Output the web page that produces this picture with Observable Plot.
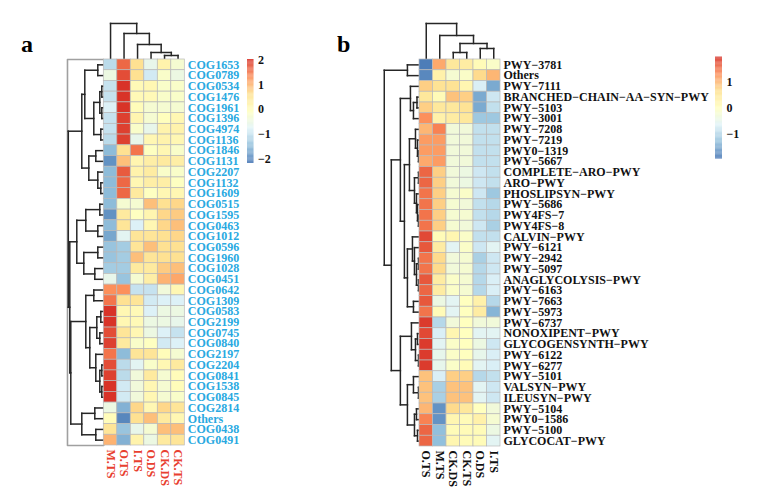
<!DOCTYPE html>
<html><head><meta charset="utf-8">
<script src="https://cdn.jsdelivr.net/npm/d3@7"></script>
<script src="https://cdn.jsdelivr.net/npm/@observablehq/plot@0.6"></script>
<style>
body{margin:0;background:#fff;}
#wrap{position:relative;width:777px;height:501px;font-family:"Liberation Serif","Times New Roman",serif;}
#wrap svg{position:absolute;top:0;overflow:visible;background:transparent;}
.tag{position:absolute;font-weight:bold;font-size:24px;line-height:1;}
</style></head><body>
<div id="wrap"><div class="tag" style="left:21px;top:32px">a</div><div class="tag" style="left:337px;top:32px">b</div></div>
<script>
// ---------- Panel a data ----------
const rowsA = ["COG1653","COG0789","COG0534","COG1476","COG1961","COG1396","COG4974","COG1136","COG1846","COG1131","COG2207","COG1132","COG1609","COG0515","COG1595","COG0463","COG1012","COG0596","COG1960","COG1028","COG0451","COG0642","COG1309","COG0583","COG2199","COG0745","COG0840","COG2197","COG2204","COG0841","COG1538","COG0845","COG2814","Others","COG0438","COG0491"];
const colsA = ["M.TS","O.TS","I.TS","O.DS","CK.DS","CK.TS"];
const valuesA = [
 [-1.1,1.6,0.6,-0.6,0.2,-0.3],
 [-0.5,1.8,0.6,-0.9,-0.2,-0.5],
 [-1.0,2.0,0.05,0.1,-0.2,-0.2],
 [-1.0,2.0,0.05,0.05,-0.2,-0.2],
 [-0.8,2.0,0.0,-0.3,-0.3,-0.3],
 [-1.0,1.9,0.15,-0.3,-0.05,0.1],
 [-1.0,1.9,-0.2,-0.6,0.2,0.2],
 [-1.1,1.9,-0.6,0.1,0.2,0.1],
 [-1.5,0.6,1.5,-0.1,0.1,-0.2],
 [-1.9,0.9,0.15,0.3,0.4,0.3],
 [-1.5,1.7,0.2,0.35,-0.2,-0.2],
 [-1.5,1.6,0.1,0.3,0.3,-0.1],
 [-1.5,1.6,0.4,-0.1,0.1,0.1],
 [-1.5,-0.3,-0.3,0.9,0.6,0.7],
 [-1.9,0.4,-0.1,0.15,0.7,0.8],
 [-1.5,0.5,-0.8,0.1,0.7,0.9],
 [-1.7,-0.7,0.5,0.5,0.6,0.7],
 [-1.4,-1.3,0.5,0.9,0.6,0.6],
 [-1.4,-1.3,0.9,0.5,0.6,0.6],
 [-1.3,-1.3,0.4,0.4,0.8,0.9],
 [-0.6,-1.4,-0.3,0.3,1.0,1.1],
 [1.3,1.3,-1.0,-1.0,-0.4,0.1],
 [1.5,0.6,0.5,-0.9,-0.8,-0.8],
 [2.0,0.1,0.05,-0.8,-0.5,-0.5],
 [2.0,0.1,0.05,-0.5,-0.5,-0.6],
 [1.8,0.5,0.1,-0.5,-0.8,-1.0],
 [1.9,0.4,-0.2,-0.1,-0.9,-0.8],
 [1.5,-1.5,0.5,0.5,0.0,-0.3],
 [1.8,-1.1,-0.7,-0.2,0.1,0.4],
 [1.9,-1.1,-0.4,0.4,-0.3,0.0],
 [2.0,-0.9,-0.4,0.1,-0.3,0.0],
 [2.0,-0.9,-0.4,0.1,-0.3,-0.2],
 [-0.5,-1.6,0.7,0.1,0.7,0.5],
 [0.0,-2.0,0.6,0.9,0.4,0.1],
 [0.5,-1.4,-0.6,-0.3,0.9,0.9],
 [1.0,-1.6,0.2,-0.5,0.4,0.5]
];
// dendrograms as [height, left, right]; leaves are row/column indices
const rowTreeA = [35.5,
  [22, [19, [6,0,1], [10, [4,[2,2,3],[2,4,5]], [3,6,7]]], [15, [8,8,9], [6,10,[3,11,12]]]],
  [34, [27, [18,[4,13,14],[6,15,16]], [20,[6,17,18],[9,19,20]]],
       [33, [18, [10,21,22], [14, [7,[3,23,24],[4,25,26]], [8,27,[4,[2,28,29],[2,30,31]]]]],
            [22, [9,32,33], [8,34,35]]]]];
const colTreeA = [36, 0, [26, 1, [15, 2, [7, 3, [4, 4, 5]]]]];
const legendA = {min: -2.17, max: 2.02, ticks: [-2,-1,0,1,2]};

// ---------- Panel b data ----------
const rowsB = ["PWY\u22123781","Others","PWY\u22127111","BRANCHED\u2212CHAIN\u2212AA\u2212SYN\u2212PWY","PWY\u22125103","PWY\u22123001","PWY\u22127208","PWY\u22127219","PWY0\u22121319","PWY\u22125667","COMPLETE\u2212ARO\u2212PWY","ARO\u2212PWY","PHOSLIPSYN\u2212PWY","PWY\u22125686","PWY4FS\u22127","PWY4FS\u22128","CALVIN\u2212PWY","PWY\u22126121","PWY\u22122942","PWY\u22125097","ANAGLYCOLYSIS\u2212PWY","PWY\u22126163","PWY\u22127663","PWY\u22125973","PWY\u22126737","NONOXIPENT\u2212PWY","GLYCOGENSYNTH\u2212PWY","PWY\u22126122","PWY\u22126277","PWY\u22125101","VALSYN\u2212PWY","ILEUSYN\u2212PWY","PWY\u22125104","PWY0\u22121586","PWY\u22125100","GLYCOCAT\u2212PWY"];
const colsB = ["O.TS","M.TS","CK.DS","CK.TS","O.DS","I.TS"];
const valuesB = [
 [-1.9,1.1,0.5,0.4,0.1,-0.1],
 [-1.8,0.3,-0.2,-0.1,0.7,1.0],
 [0.8,0.6,0.6,0.2,-0.7,-1.5],
 [0.5,0.1,0.9,0.8,-1.5,-0.8],
 [0.8,0.5,0.5,0.6,-1.5,-0.9],
 [1.3,0.3,0.4,0.5,-1.2,-1.2],
 [1.0,1.4,-0.3,-0.3,-0.9,-0.9],
 [1.2,1.2,-0.3,-0.3,-0.9,-0.9],
 [1.2,1.2,-0.3,-0.3,-0.9,-0.9],
 [1.1,1.2,-0.3,-0.3,-0.9,-0.9],
 [1.6,0.8,-0.3,-0.4,-0.8,-0.9],
 [1.6,0.8,-0.3,-0.4,-0.8,-0.9],
 [1.5,0.8,-0.2,-0.1,-0.8,-1.2],
 [1.5,0.8,-0.2,-0.3,-0.9,-1.0],
 [1.5,0.8,-0.2,-0.2,-0.9,-1.0],
 [1.5,0.8,-0.2,-0.3,-0.8,-1.1],
 [1.8,0.1,0.2,-0.1,-0.9,-0.9],
 [1.7,0.4,-0.6,-0.1,-0.8,-0.6],
 [1.5,0.7,-0.3,-0.2,-1.1,-0.8],
 [1.5,0.7,-0.3,-0.2,-1.0,-0.8],
 [1.7,0.4,-0.1,-0.2,-1.0,-0.7],
 [1.6,0.4,-0.1,-0.2,-1.0,-0.7],
 [1.7,-0.4,-0.6,0.0,0.3,-1.0],
 [1.5,0.1,-0.6,0.0,0.4,-1.4],
 [1.9,-1.0,-0.3,0.0,-0.3,-0.3],
 [1.8,-0.7,0.2,0.0,-0.6,-0.6],
 [1.9,-0.6,-0.1,0.0,-0.4,-0.8],
 [1.9,-0.5,-0.1,0.0,-0.5,-0.7],
 [1.9,-0.5,-0.1,0.1,-0.6,-0.7],
 [0.9,-0.7,0.8,0.8,-1.0,-0.9],
 [0.9,-1.1,0.9,0.9,-0.6,-0.8],
 [0.9,-1.1,0.9,0.9,-0.6,-0.8],
 [1.0,-1.7,0.7,0.5,0.0,-0.3],
 [1.4,-1.7,0.2,0.1,0.3,-0.2],
 [1.6,-1.3,0.1,0.1,0.1,-0.4],
 [1.6,-1.3,0.2,0.1,0.1,-0.6]
];
const rowTreeB = [35,
  [12,0,1],
  [28,
    [19, [9, 2, [6, [2.5,3,4], 5]],
         [15, [10, [4,6,[2,7,[1,8,9]]], [5,[1,10,11],[3,12,[2,13,[1,14,15]]]]],
              [12, [7,16,[5,17,[3,[1,18,19],[1,20,21]]]], [6,22,23]]]],
    [19, [8,24,[4,[2,25,26],[1,27,28]]],
         [12, [6,29,[1,30,31]], [5,[3,32,33],[2,34,35]]]]]];
const colTreeB = [36, 0, [24, 1, [16, [7, 2, 3], [11, 4, 5]]]];
const legendB = {min: -1.97, max: 1.98, ticks: [-1,0,1]};

// pheatmap default palette: rev(RdYlBu, 7)
const palette = ["#4575B4","#91BFDB","#E0F3F8","#FFFFBF","#FEE090","#FC8D59","#D73027"];

// ---------- helpers ----------
const FONT = "'Liberation Serif','Times New Roman',serif";
function dendro(tree) {
  const segs = [];
  function walk(n) {
    if (typeof n === "number") return {p: n + 0.5, h: 0};
    const [h, a, b] = n;
    const A = walk(a), B = walk(b);
    segs.push({p1: A.p, h1: A.h, p2: A.p, h2: h});
    segs.push({p1: A.p, h1: h, p2: B.p, h2: h});
    segs.push({p1: B.p, h1: h, p2: B.p, h2: B.h});
    return {p: (A.p + B.p) / 2, h};
  }
  const r = walk(tree);
  return {segs, top: r.h};
}
function colorOpt(lg) {
  const stops = palette.map((_, i) => lg.min + i * (lg.max - lg.min) / (palette.length - 1));
  return {type: "linear", domain: stops, range: palette, interpolate: "rgb", clamp: true};
}
function cellsOf(values) {
  const out = [];
  values.forEach((row, r) => row.forEach((v, c) => out.push({r, c, v})));
  return out;
}

function heatPanel(o) {
  const nR = o.rows.length, nC = o.cols.length;
  const rd = dendro(o.rowTree), cd = dendro(o.colTree);
  const kx = o.rowSpan / rd.top;   // tree height -> column units
  const ky = o.colSpan / cd.top;   // tree height -> row units
  const marks = [];
  if (o.bracket) {
    const bx = -o.bracket;
    marks.push(Plot.line([{x:0,y:0},{x:bx,y:0},{x:bx,y:nR},{x:0,y:nR}], {x:"x", y:"y", stroke:"#a0a0a0", strokeWidth:1.6}));
  }
  marks.push(
    Plot.link(rd.segs, {x1: d => -d.h1 * kx, y1: "p1", x2: d => -d.h2 * kx, y2: "p2", stroke: "#262626", strokeWidth: 1.5, strokeLinecap: "square"}),
    Plot.link(cd.segs, {x1: "p1", y1: d => -d.h1 * ky, x2: "p2", y2: d => -d.h2 * ky, stroke: "#262626", strokeWidth: 1.5, strokeLinecap: "square"}),
    Plot.rect(cellsOf(o.values), {x1: "c", x2: d => d.c + 1, y1: "r", y2: d => d.r + 1, fill: "v", stroke: "#b9b9b9", strokeWidth: 0.7}),
    Plot.text(o.rows, {x: () => nC, y: (d, i) => i + 0.5, text: d => d, textAnchor: "start", dx: 3, fill: o.rowColor, fontSize: 12, fontWeight: "bold", fontFamily: FONT}),
    Plot.text(o.cols, {x: (d, i) => i + 0.5, y: () => nR, text: d => d, rotate: 90, textAnchor: "start", dy: 4, fill: o.colColor, fontSize: 12, fontWeight: "bold", fontFamily: FONT})
  );
  return Plot.plot({
    width: o.width, height: 501,
    marginLeft: o.ml, marginRight: o.width - o.ml - o.hw, marginTop: o.top, marginBottom: 501 - o.bottom,
    x: {domain: [0, nC], axis: null},
    y: {domain: [0, nR], reverse: true, axis: null},
    color: colorOpt(o.legend),
    style: {fontFamily: FONT, background: "transparent", overflow: "visible"},
    marks
  });
}

const fmtTick = d => (d < 0 ? "\u2212" : "") + Math.abs(d);
function colorBar(lg, o) {
  const n = 120;
  const slices = d3.range(n).map(i => ({a: lg.min + i * (lg.max - lg.min) / n, b: lg.min + (i + 1) * (lg.max - lg.min) / n}));
  return Plot.plot({
    width: o.width, height: 501,
    marginLeft: 7, marginRight: o.width - 7 - o.bw, marginTop: o.top, marginBottom: 501 - o.bottom,
    x: {domain: [0, 1], axis: null},
    y: {domain: [lg.min, lg.max]},
    color: colorOpt(lg),
    style: {fontFamily: FONT, fontSize: "12px", fontWeight: "bold", background: "transparent", overflow: "visible", color: "#111"},
    marks: [
      Plot.rect(slices, {x1: () => 0, x2: () => 1, y1: "a", y2: "b", fill: d => (d.a + d.b) / 2}),
      Plot.axisY({anchor: "right", ticks: lg.ticks, tickFormat: fmtTick, tickSize: 0, tickPadding: 4, label: null, fontSize: 12, fontWeight: "bold"})
    ]
  });
}

const wrap = document.getElementById("wrap");
function place(svg, left) { svg.style.left = left + "px"; wrap.appendChild(svg); }

place(heatPanel({rows: rowsA, cols: colsA, values: valuesA, rowTree: rowTreeA, colTree: colTreeA, legend: legendA,
  width: 245, ml: 103.3, hw: 81, top: 59, bottom: 445, rowSpan: 2.63, colSpan: 3.36, bracket: 2.69,
  rowColor: "#29a9e1", colColor: "#e8402f"}), 0);
place(colorBar(legendA, {width: 50, bw: 6.5, top: 59, bottom: 162.9}), 240);

place(heatPanel({rows: rowsB, cols: colsB, values: valuesB, rowTree: rowTreeB, colTree: colTreeB, legend: legendB,
  width: 380, ml: 89, hw: 81, top: 59, bottom: 446, rowSpan: 2.61, colSpan: 3.35, bracket: 0,
  rowColor: "#111", colColor: "#111"}), 330);
place(colorBar(legendB, {width: 69, bw: 7, top: 56.6, bottom: 158.5}), 708);
</script>
</body></html>
